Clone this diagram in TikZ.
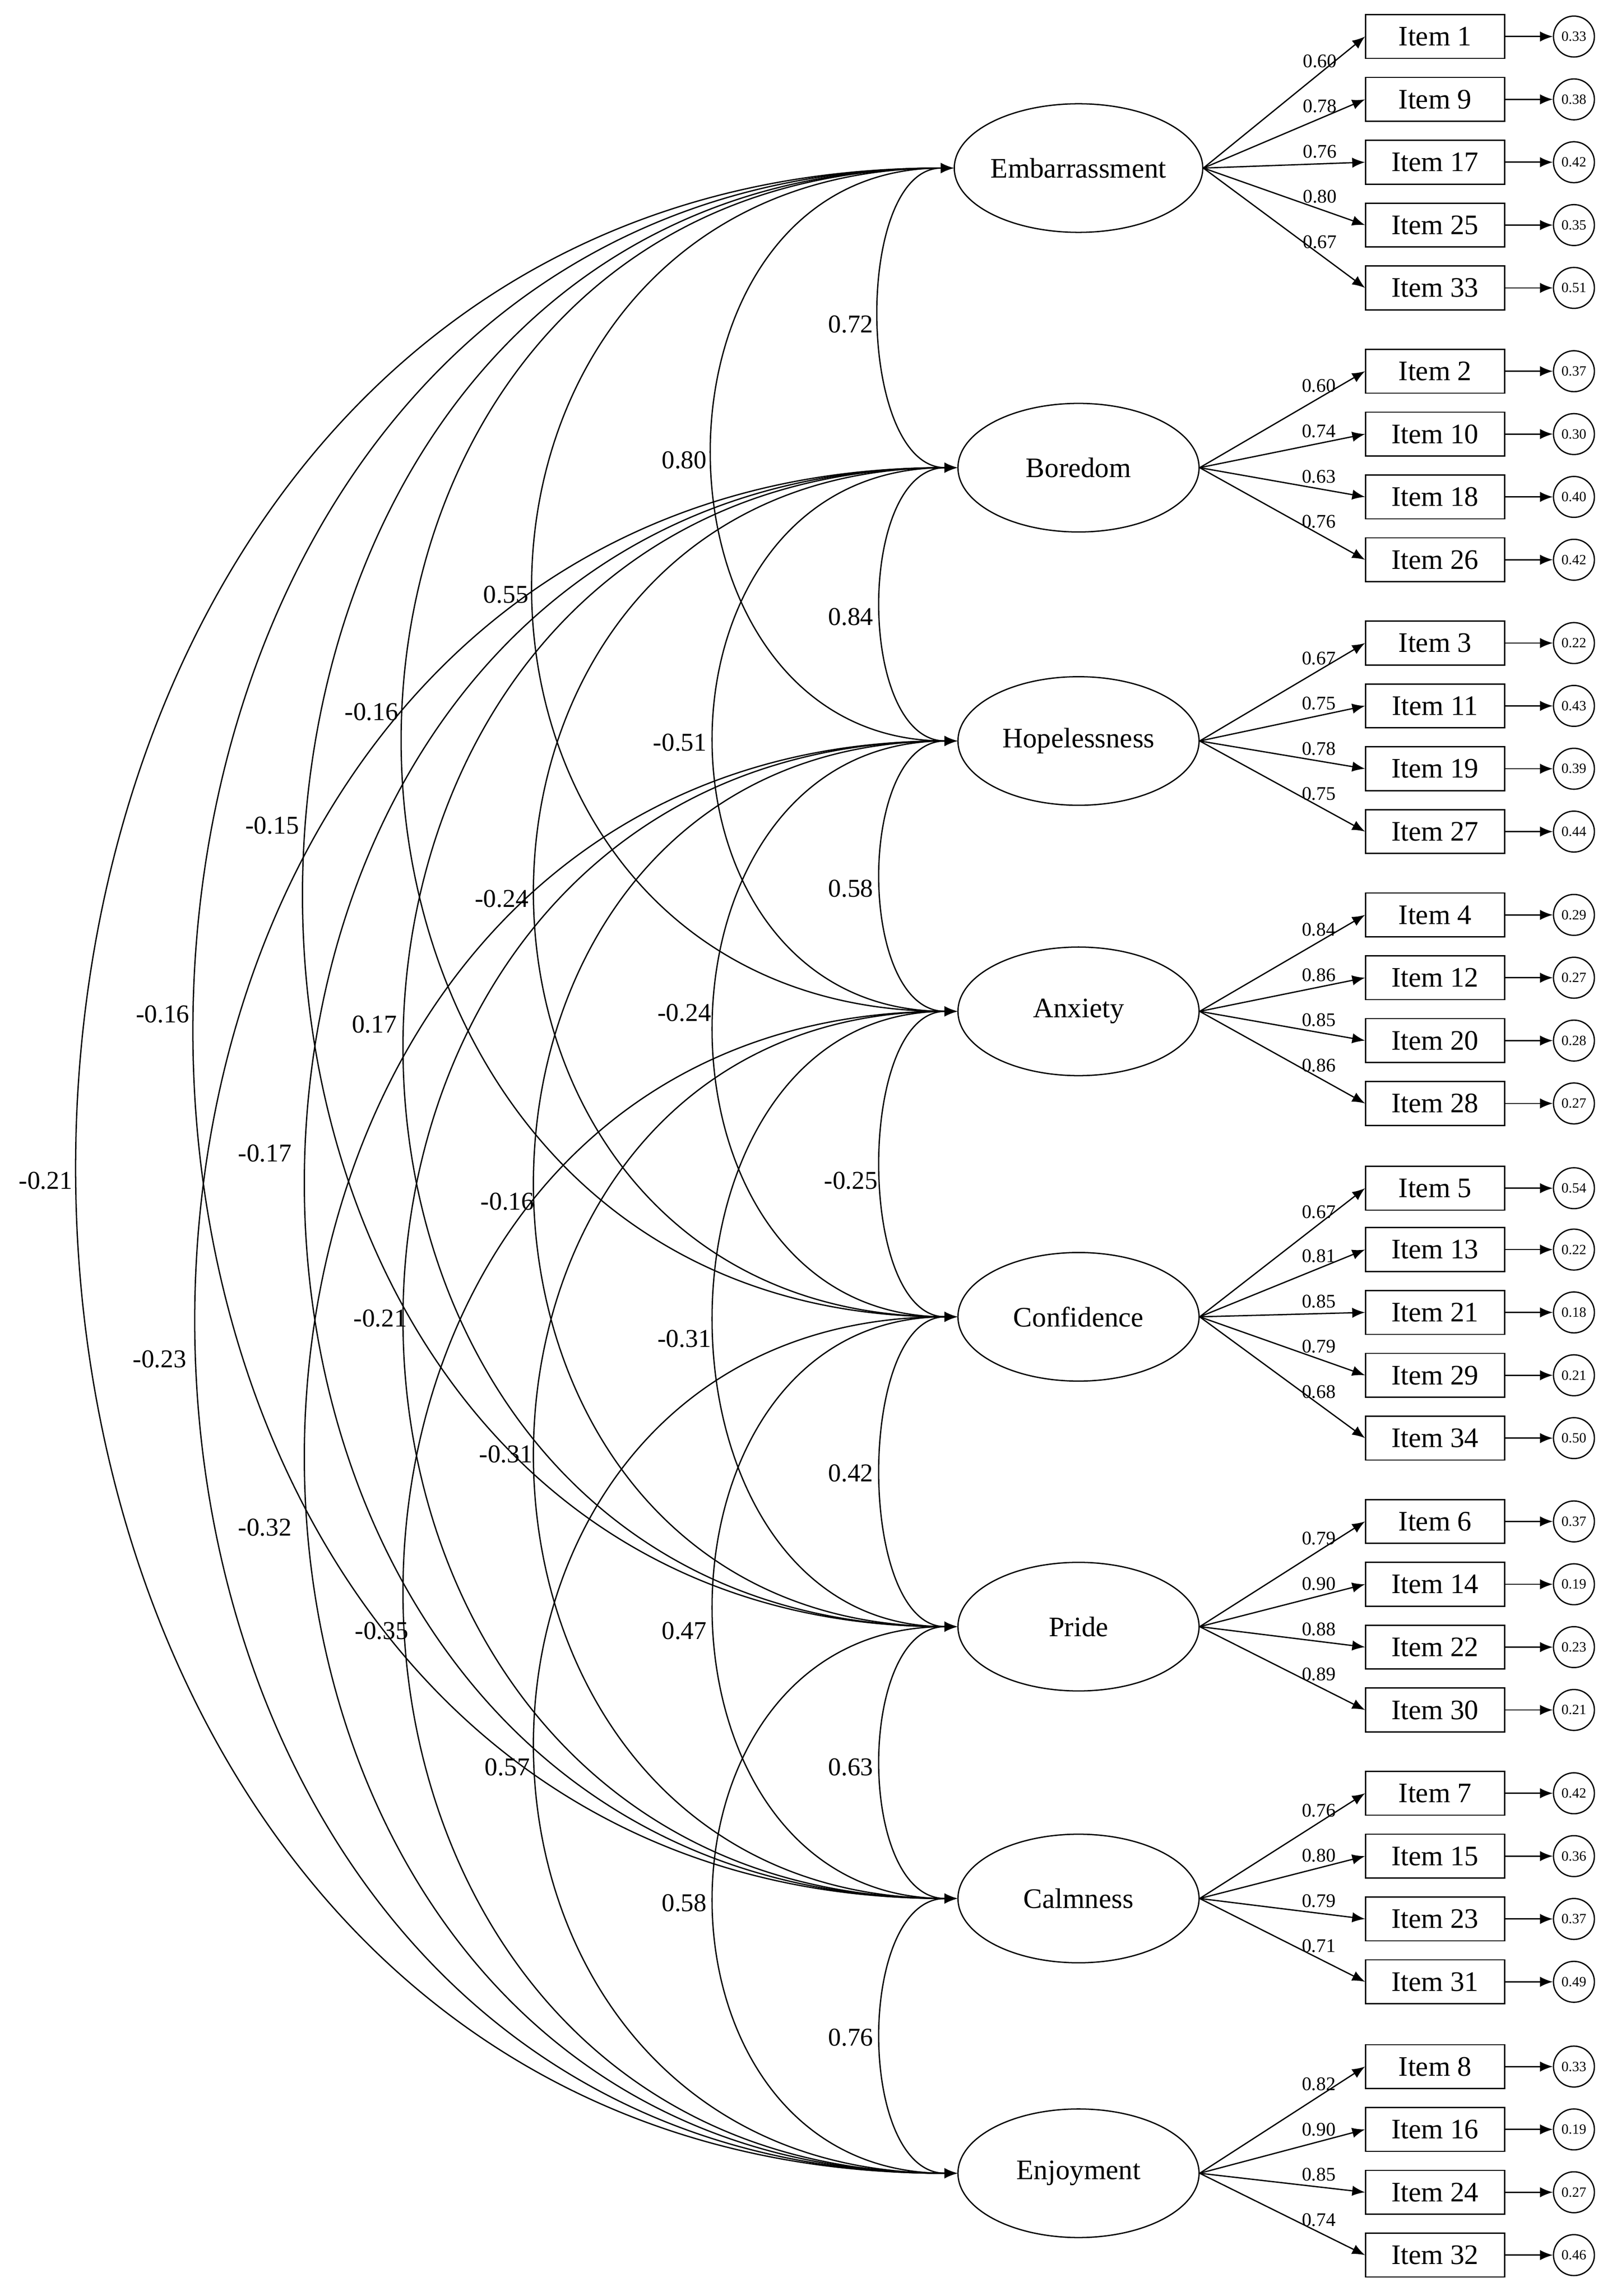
\documentclass[tikz,border=0pt]{standalone}
\usepackage{fontspec}
\setmainfont{Liberation Serif}
\usetikzlibrary{shapes.geometric,arrows.meta}
\begin{document}
\begin{tikzpicture}[x=0.02cm,y=-0.02cm,line width=0.5pt,
  lat/.style={ellipse,draw,minimum width=3.3cm,minimum height=1.76cm,inner sep=0pt,font=\fontsize{11}{13}\selectfont},
  itm/.style={rectangle,draw,minimum width=1.9cm,minimum height=0.6cm,inner sep=0pt,font=\fontsize{11}{13}\selectfont},
  err/.style={circle,draw,minimum size=0.56cm,inner sep=0pt,font=\fontsize{5.5}{6}\selectfont},
  arr/.style={-{Latex[length=5pt,width=4pt]}},
  cov/.style={{Latex[length=5pt,width=4pt]}-{Latex[length=5pt,width=4pt]}},
  lod/.style={font=\fontsize{7.5}{9}\selectfont,inner sep=1pt},
  cl/.style={font=\fontsize{10}{12}\selectfont,anchor=east,inner sep=0pt}]
\useasboundingbox (0,0) rectangle (1103,1571);
\node[lat] (L1) at (738,115) {Embarrassment};
\node[lat] (L2) at (738,320) {Boredom};
\node[lat] (L3) at (738,507) {Hopelessness};
\node[lat] (L4) at (738,692) {Anxiety};
\node[lat] (L5) at (738,901) {Confidence};
\node[lat] (L6) at (738,1113) {Pride};
\node[lat] (L7) at (738,1299) {Calmness};
\node[lat] (L8) at (738,1487) {Enjoyment};
\foreach \n/\y/\l/\e/\lt in {1/25/0.60/0.33/1,9/68/0.78/0.38/1,17/111/0.76/0.42/1,25/154/0.80/0.35/1,33/197/0.67/0.51/1,
 2/254/0.60/0.37/2,10/297/0.74/0.30/2,18/340/0.63/0.40/2,26/383/0.76/0.42/2,
 3/440/0.67/0.22/3,11/483/0.75/0.43/3,19/526/0.78/0.39/3,27/569/0.75/0.44/3,
 4/626/0.84/0.29/4,12/669/0.86/0.27/4,20/712/0.85/0.28/4,28/755/0.86/0.27/4,
 5/813/0.67/0.54/5,13/855/0.81/0.22/5,21/898/0.85/0.18/5,29/941/0.79/0.21/5,34/984/0.68/0.50/5,
 6/1041/0.79/0.37/6,14/1084/0.90/0.19/6,22/1127/0.88/0.23/6,30/1170/0.89/0.21/6,
 7/1227/0.76/0.42/7,15/1270/0.80/0.36/7,23/1313/0.79/0.37/7,31/1356/0.71/0.49/7,
 8/1414/0.82/0.33/8,16/1457/0.90/0.19/8,24/1500/0.85/0.27/8,32/1543/0.74/0.46/8}{
  \node[itm] (I\n) at (982,\y) {Item \n};
  \node[err] (E\n) at (1077,\y) {\e};
  \draw[arr] (L\lt.east) -- node[lod,pos=0.72,above=1pt] {\l} (I\n.west);
  \draw[arr] (I\n.east) -- (E\n.west);
}
\foreach \a/\b/\c/\t/\lx/\ly in {
1/2/69/0.72/598/222, 1/3/221/0.80/484/315, 1/4/384/0.55/362/407, 1/5/503/-0.16/273/487,
1/6/593/-0.15/205/565, 1/7/693/-0.16/130/694, 1/8/800/-0.21/50/808,
2/3/69/0.84/598/422, 2/4/221/-0.51/484/508, 2/5/384/-0.24/362/615, 2/6/503/0.17/272/701,
2/7/593/-0.17/200/789, 2/8/693/-0.23/128/930,
3/4/69/0.58/598/608, 3/5/221/-0.24/487/693, 3/6/384/-0.16/366/822, 3/7/503/-0.21/279/902,
3/8/593/-0.32/200/1045,
4/5/69/-0.25/601/808, 4/6/221/-0.31/487/916, 4/7/384/-0.31/365/995, 4/8/503/-0.35/280/1116,
5/6/69/0.42/598/1008, 5/7/221/0.47/484/1116, 5/8/384/0.57/363/1209,
6/7/69/0.63/598/1209, 6/8/221/0.58/484/1302, 7/8/69/0.76/598/1394}{
  \draw[cov] (L\a.west) .. controls +(-\c,0) and +(-\c,0) .. (L\b.west);
  \node[cl] (C\a\b) at (\lx,\ly) {\t};
}
\end{tikzpicture}
\end{document}
